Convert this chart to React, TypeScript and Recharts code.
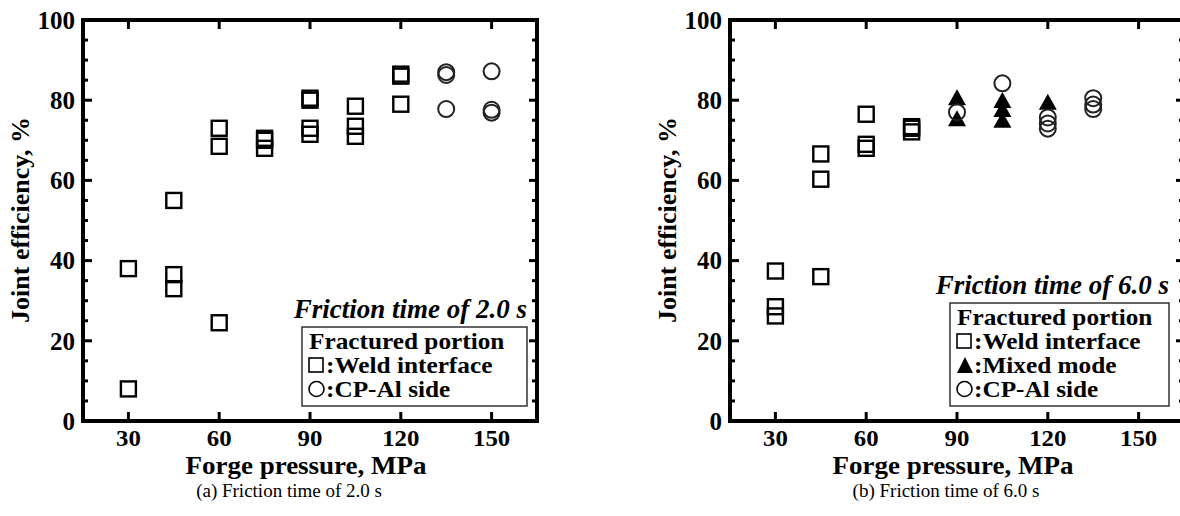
import React from 'react';
import { ScatterChart, Scatter, XAxis, YAxis } from 'recharts';

// Forge pressure (MPa) / joint efficiency (%)
const pressureTicks = [30, 60, 90, 120, 150];
const efficiencyTicks = [0, 5, 10, 15, 20, 25, 30, 35, 40, 45, 50, 55, 60, 65, 70, 75, 80, 85, 90, 95, 100];

// (a) friction time 2.0 s
const weld2Pressure = [30, 30, 45, 45, 45, 60, 60, 60, 75, 75, 75, 90, 90, 90, 90, 105, 105, 105, 120, 120, 120];
const weld2Efficiency = [38, 8, 55, 36.5, 33, 73, 68.5, 24.5, 70.5, 70, 68, 80, 80.5, 73, 71.5, 78.5, 73.5, 71, 86.5, 86, 79];
const cpAl2Pressure = [135, 135, 135, 150, 150, 150];
const cpAl2Efficiency = [87, 86.3, 77.8, 87.2, 77.6, 76.9];

// (b) friction time 6.0 s
const weld6Pressure = [30, 30, 30, 45, 45, 45, 60, 60, 60, 75, 75, 75];
const weld6Efficiency = [37.4, 28.5, 26.2, 66.6, 60.3, 36, 76.5, 69, 68, 73.4, 73, 72.1];
const mixed6Pressure = [90, 90, 105, 105, 105, 120];
const mixed6Efficiency = [80.6, 75.4, 79.9, 77.7, 75, 79.5];
const cpAl6Pressure = [90, 105, 120, 120, 120, 135, 135, 135];
const cpAl6Efficiency = [77, 84.2, 75.7, 74.2, 72.9, 80.5, 78.9, 77.8];

const toPoints = (xs: number[], ys: number[]) => xs.map((x, i) => ({ x, y: ys[i] }));

const FONT = '"Liberation Serif", "Times New Roman", serif';
const M = 8;

const SquareMark = (p: any) => (
  <rect x={p.cx - 7.5} y={p.cy - 7.5} width={15} height={15} fill="none" stroke="#000" strokeWidth={2.4} />
);
const CircleMark = (p: any) => (
  <circle cx={p.cx} cy={p.cy} r={8} fill="none" stroke="#222" strokeWidth={2} />
);
const TriangleMark = (p: any) => (
  <path d={`M${p.cx},${p.cy - 8.5} L${p.cx + 9},${p.cy + 7.5} L${p.cx - 9},${p.cy + 7.5} Z`} fill="#000" />
);

const LeftTick = (props: any) => {
  const { x, y, payload } = props;
  const v = payload.value;
  const major = v % 20 === 0;
  const ax = x + M;
  return (
    <g>
      {v > 0 && v < 100 && <line x1={ax} x2={ax + (major ? 9 : 5)} y1={y} y2={y} stroke="#000" strokeWidth={3} />}
      {major && (
        <text x={x} y={y} dy="0.35em" textAnchor="end" fontFamily={FONT} fontWeight="bold" fontSize={25} fill="#000">
          {v}
        </text>
      )}
    </g>
  );
};

const RightTick = (props: any) => {
  const { x, y, payload } = props;
  const v = payload.value;
  const major = v % 20 === 0;
  const ax = x - M;
  if (v <= 0 || v >= 100) return <g />;
  return <line x1={ax - (major ? 8 : 5)} x2={ax} y1={y} y2={y} stroke="#000" strokeWidth={3} />;
};

const BottomTick = (props: any) => {
  const { x, y, payload } = props;
  const ay = y - M;
  return (
    <g>
      <line x1={x} x2={x} y1={ay - 9} y2={ay} stroke="#000" strokeWidth={3} />
      <text transform={`translate(${x},${ay + 25}) scale(1.08,1)`} textAnchor="middle" fontFamily={FONT}
        fontWeight="bold" fontSize={23} fill="#000">
        {payload.value}
      </text>
    </g>
  );
};

const TopTick = (props: any) => {
  const { x, y } = props;
  const ay = y + M;
  return <line x1={x} x2={x} y1={ay} y2={ay + 9} stroke="#000" strokeWidth={3} />;
};

const frame = { stroke: '#000', strokeWidth: 4, strokeLinecap: 'square' as const };

const Panel = ({ children }: { children: React.ReactNode }) => (
  <ScatterChart width={560} height={516} margin={{ top: 0, right: 0, bottom: 0, left: 0 }}>
    <XAxis xAxisId="b" type="number" dataKey="x" domain={[15, 165]} ticks={pressureTicks} interval={0}
      orientation="bottom" height={95} tickSize={0} tickMargin={M} tickLine={false} axisLine={frame}
      tick={<BottomTick />} allowDataOverflow />
    <XAxis xAxisId="t" type="number" dataKey="x" domain={[15, 165]} ticks={pressureTicks} interval={0}
      orientation="top" height={20} tickSize={0} tickMargin={M} tickLine={false} axisLine={frame}
      tick={<TopTick />} allowDataOverflow />
    <YAxis yAxisId="l" type="number" dataKey="y" domain={[0, 100]} ticks={efficiencyTicks} interval={0}
      orientation="left" width={83} tickSize={0} tickMargin={M} tickLine={false} axisLine={frame}
      tick={<LeftTick />} allowDataOverflow />
    <YAxis yAxisId="r" type="number" dataKey="y" domain={[0, 100]} ticks={efficiencyTicks} interval={0}
      orientation="right" width={23} tickSize={0} tickMargin={M} tickLine={false} axisLine={frame}
      tick={<RightTick />} allowDataOverflow />
    {children}
  </ScatterChart>
);

type Entry = { kind: 'square' | 'triangle' | 'circle'; label: string };

const LegendSymbol = ({ kind, x, y }: { kind: Entry['kind']; x: number; y: number }) => {
  if (kind === 'square') return <rect x={x} y={y - 15} width={14} height={14} fill="none" stroke="#000" strokeWidth={1.6} />;
  if (kind === 'circle') return <circle cx={x + 7.5} cy={y - 8} r={7.5} fill="none" stroke="#000" strokeWidth={1.6} />;
  return <path d={`M${x + 8},${y - 16} L${x + 16},${y} L${x},${y} Z`} fill="#000" />;
};

// legend text in the reference is a little wider than plain Times
const Wide = ({ x, y, children }: { x: number; y: number; children: React.ReactNode }) => (
  <text transform={`translate(${x},${y}) scale(1.1,1)`} fontWeight="bold" fontSize={23}>{children}</text>
);

const Annotation = ({ right, bottom, boxLeft, title, entries }: { right: number; bottom: number; boxLeft: number; title: string; entries: Entry[] }) => {
  const lineH = 24;
  const boxH = 7 + lineH * (entries.length + 1);
  const boxTop = bottom - boxH;
  return (
    <g fontFamily={FONT} fill="#000">
      <text x={right} y={boxTop - 9} textAnchor="end" fontWeight="bold" fontStyle="italic" fontSize={27}>{title}</text>
      <rect x={boxLeft} y={boxTop} width={right - boxLeft} height={boxH} fill="#fff" stroke="#333" strokeWidth={1.5} />
      <Wide x={boxLeft + 7} y={boxTop + 22}>Fractured portion</Wide>
      {entries.map((e, i) => {
        const by = boxTop + 22 + lineH * (i + 1);
        return (
          <g key={e.label}>
            <LegendSymbol kind={e.kind} x={boxLeft + 7} y={by} />
            <Wide x={boxLeft + 24} y={by}>{':' + e.label}</Wide>
          </g>
        );
      })}
    </g>
  );
};

export default function App() {
  return (
    <div style={{ position: 'absolute', left: 0, top: 0, width: 1180, height: 516, overflow: 'hidden', background: '#fff' }}>
      <div style={{ position: 'absolute', left: 0, top: 0 }}>
        <Panel>
          <Scatter xAxisId="b" yAxisId="l" data={toPoints(weld2Pressure, weld2Efficiency)} shape={SquareMark} isAnimationActive={false} />
          <Scatter xAxisId="b" yAxisId="l" data={toPoints(cpAl2Pressure, cpAl2Efficiency)} shape={CircleMark} isAnimationActive={false} />
        </Panel>
      </div>
      <div style={{ position: 'absolute', left: 647, top: 0 }}>
        <Panel>
          <Scatter xAxisId="b" yAxisId="l" data={toPoints(weld6Pressure, weld6Efficiency)} shape={SquareMark} isAnimationActive={false} />
          <Scatter xAxisId="b" yAxisId="l" data={toPoints(mixed6Pressure, mixed6Efficiency)} shape={TriangleMark} isAnimationActive={false} />
          <Scatter xAxisId="b" yAxisId="l" data={toPoints(cpAl6Pressure, cpAl6Efficiency)} shape={CircleMark} isAnimationActive={false} />
        </Panel>
      </div>
      <svg width={1180} height={516} style={{ position: 'absolute', left: 0, top: 0, pointerEvents: 'none' }}>
        <g fontFamily={FONT} fill="#000">
          <text transform="translate(29,220) rotate(-90)" textAnchor="middle" fontWeight="bold" fontSize={26}>Joint efficiency, %</text>
          <text transform="translate(676,220) rotate(-90)" textAnchor="middle" fontWeight="bold" fontSize={26}>Joint efficiency, %</text>
          <text transform="translate(306,474) scale(1.08,1)" textAnchor="middle" fontWeight="bold" fontSize={25}>Forge pressure, MPa</text>
          <text transform="translate(953,474) scale(1.08,1)" textAnchor="middle" fontWeight="bold" fontSize={25}>Forge pressure, MPa</text>
          <text x={289} y={497} textAnchor="middle" fontSize={19}>(a) Friction time of 2.0 s</text>
          <text x={946} y={497} textAnchor="middle" fontSize={19}>(b) Friction time of 6.0 s</text>
        </g>
        <Annotation right={527} bottom={406} boxLeft={302} title="Friction time of 2.0 s"
          entries={[{ kind: 'square', label: 'Weld interface' }, { kind: 'circle', label: 'CP-Al side' }]} />
        <Annotation right={1169} bottom={406} boxLeft={950} title="Friction time of 6.0 s"
          entries={[{ kind: 'square', label: 'Weld interface' }, { kind: 'triangle', label: 'Mixed mode' }, { kind: 'circle', label: 'CP-Al side' }]} />
      </svg>
    </div>
  );
}
